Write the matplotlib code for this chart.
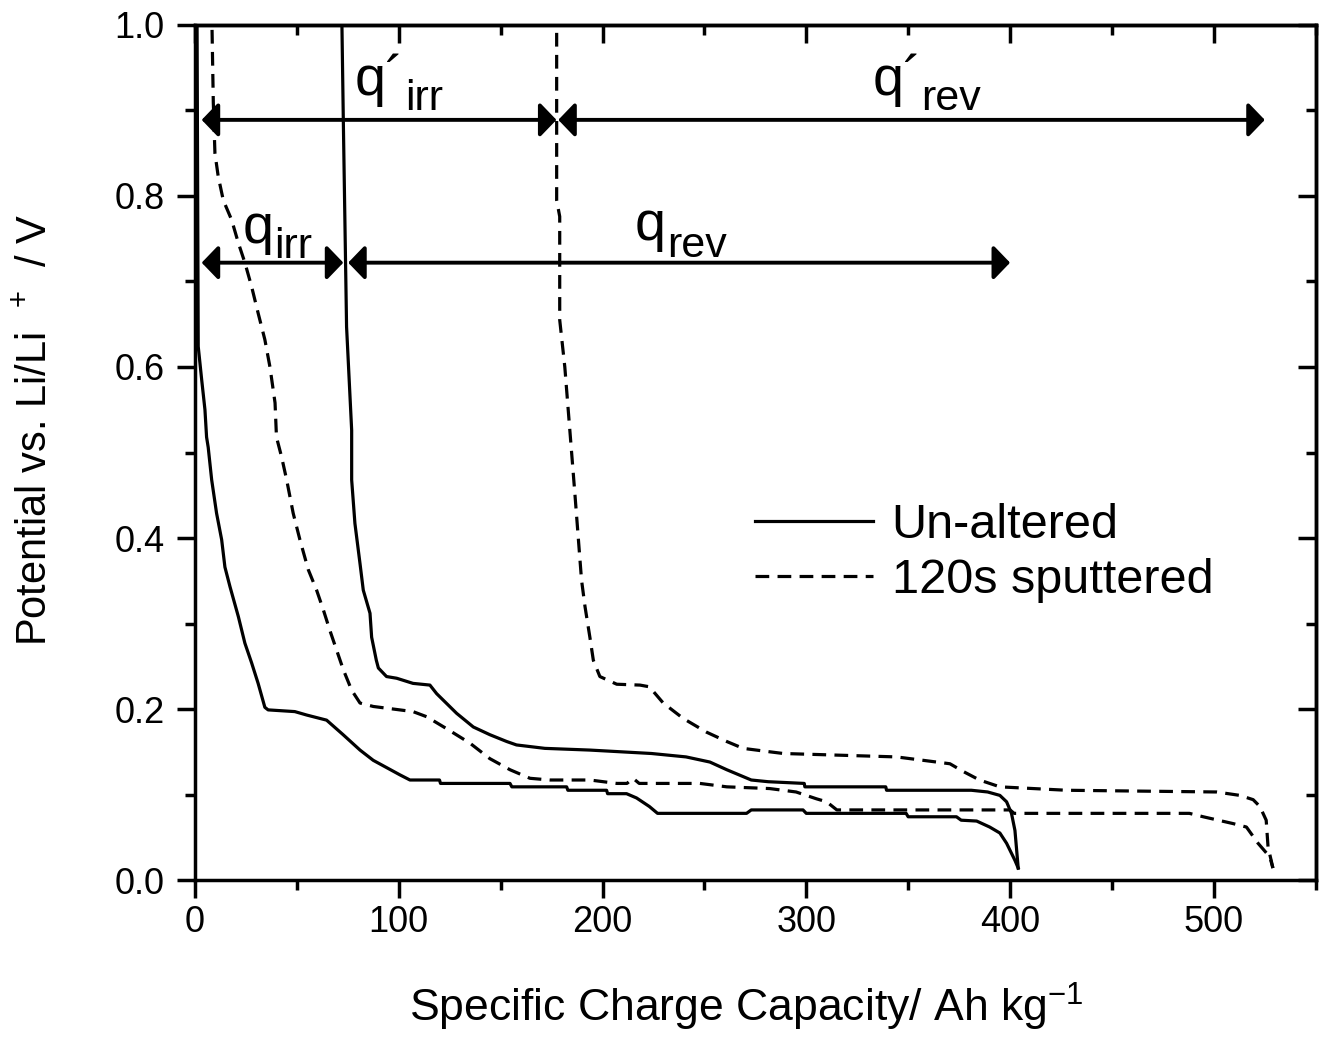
import matplotlib
matplotlib.use("Agg")
import matplotlib.pyplot as plt
from matplotlib.ticker import MultipleLocator, FormatStrFormatter

plt.rcParams['font.family'] = ['Liberation Sans', 'DejaVu Sans']
plt.rcParams['mathtext.fontset'] = 'custom'
plt.rcParams['mathtext.rm'] = 'Liberation Sans'
plt.rcParams['mathtext.it'] = 'Liberation Sans:italic'

# --- data (x: Ah/kg, y: V vs Li/Li+) ---
# un-altered, first lithiation
ua_dis_x = [1.0, 1.6, 3.3, 4.9, 5.7, 6.5, 8.2, 10.6, 13.1, 14.7, 17.2, 21.3, 24.5, 27.8,
            31.0, 34.3, 35.9, 49.0, 54.8, 64.6, 72.7, 81.0, 87.5, 100.6, 105.5, 120.0,
            120.5, 154.6, 155.5, 182.4, 183.0, 202.0, 202.5, 211.8, 216.7, 223.0, 227.0,
            270.7, 273.0, 298.4, 300.0, 349.0, 350.0, 373.7, 376.0, 383.6, 390.0, 395.0,
            398.3, 402.4, 404.0]
ua_dis_y = [1.02, 0.624, 0.585, 0.55, 0.518, 0.506, 0.468, 0.429, 0.398, 0.366, 0.343,
            0.308, 0.277, 0.254, 0.230, 0.202, 0.199, 0.197, 0.193, 0.187, 0.170, 0.152,
            0.140, 0.123, 0.117, 0.117, 0.113, 0.113, 0.109, 0.109, 0.105, 0.105, 0.101,
            0.101, 0.096, 0.086, 0.078, 0.078, 0.082, 0.082, 0.078, 0.078, 0.074, 0.074,
            0.070, 0.069, 0.062, 0.055, 0.043, 0.023, 0.014]
# un-altered, delithiation (plotted back from the end of lithiation)
ua_chg_x = [404.0, 402.4, 400.7, 398.3, 395.0, 389.0, 381.0, 339.4, 339.0, 299.3, 299.0,
            281.3, 273.0, 269.0, 261.0, 252.7, 241.0, 224.0, 193.8, 171.7, 157.8, 153.0,
            144.7, 136.6, 128.4, 126.7, 118.6, 115.3, 107.0, 99.0, 94.0, 90.0, 89.0,
            86.7, 85.9, 82.6, 81.0, 78.5, 76.9, 76.9, 74.4, 72.8, 72.0]
ua_chg_y = [0.014, 0.058, 0.078, 0.0915, 0.099, 0.103, 0.105, 0.105, 0.109, 0.109, 0.113,
            0.115, 0.117, 0.121, 0.129, 0.138, 0.144, 0.148, 0.152, 0.154, 0.158, 0.162,
            0.170, 0.179, 0.195, 0.199, 0.218, 0.228, 0.230, 0.236, 0.238, 0.248, 0.257,
            0.284, 0.312, 0.339, 0.370, 0.417, 0.468, 0.526, 0.647, 0.889, 1.02]
# 120 s sputtered, first lithiation
sp_dis_x = [8.2, 9.0, 9.8, 11.4, 13.9, 18.0, 21.3, 24.5, 27.8, 31.0, 34.3, 36.8, 39.3,
            40.0, 42.5, 45.0, 48.2, 51.5, 55.6, 59.7, 63.0, 66.2, 69.5, 72.8, 76.9, 81.0,
            87.5, 107.0, 113.7, 123.5, 135.0, 144.7, 154.6, 164.4, 174.2, 193.8, 207.0,
            212.0, 215.0, 218.0, 247.8, 261.0, 282.0, 295.0, 305.0, 310.0, 315.0, 400.0,
            402.0, 488.0, 494.8, 509.5, 516.0, 521.7, 527.5, 529.0]
sp_dis_y = [1.02, 0.909, 0.850, 0.823, 0.795, 0.772, 0.745, 0.722, 0.694, 0.663, 0.632,
            0.600, 0.558, 0.518, 0.495, 0.468, 0.429, 0.398, 0.363, 0.339, 0.316, 0.292,
            0.269, 0.246, 0.222, 0.207, 0.203, 0.197, 0.191, 0.177, 0.160, 0.142, 0.129,
            0.119, 0.117, 0.117, 0.113, 0.113, 0.119, 0.113, 0.113, 0.109, 0.107, 0.103,
            0.095, 0.0915, 0.082, 0.082, 0.078, 0.078, 0.074, 0.066, 0.062, 0.043, 0.027,
            0.014]
# 120 s sputtered, delithiation
sp_chg_x = [529.0, 526.6, 525.7, 522.6, 519.3, 512.8, 501.3, 427.7, 395.0, 385.0, 377.0,
            370.5, 344.3, 288.7, 282.0, 269.0, 261.0, 251.0, 239.6, 229.8, 223.0, 218.4,
            207.0, 198.7, 195.5, 193.8, 191.4, 189.7, 186.5, 181.5, 179.0, 179.0, 177.5,
            177.5]
sp_chg_y = [0.014, 0.039, 0.070, 0.086, 0.094, 0.099, 0.103, 0.105, 0.109, 0.117, 0.127,
            0.136, 0.144, 0.148, 0.150, 0.154, 0.162, 0.173, 0.189, 0.207, 0.226, 0.228,
            0.229, 0.238, 0.257, 0.284, 0.320, 0.351, 0.45, 0.6, 0.655, 0.776, 0.795,
            1.02]

# capacity arrows: (start, end, level)
arrows = [(3.3, 177.4, 0.889), (178.3, 525.0, 0.889),
          (3.3, 72.8, 0.722), (75.2, 400.0, 0.722)]
# labels: (main, sub, x_main, y_main, x_sub, y_sub)
qlabels = [("q\u00b4", "irr", 78.5, 0.918, 103.0, 0.9006),
           ("q\u00b4", "rev", 332.7, 0.918, 356.5, 0.9006),
           ("q", "irr", 23.5, 0.745, 39.0, 0.7275),
           ("q", "rev", 215.9, 0.748, 231.5, 0.7287)]

fig = plt.figure(figsize=(13.29, 10.40), dpi=100)
ax = fig.add_axes([0.1467, 0.1538, 0.8433, 0.8222])

lw = 2.3
dash = (4.3, 2.6)
ax.plot(ua_dis_x, ua_dis_y, color="k", lw=lw, label="Un-altered")
ax.plot(ua_chg_x, ua_chg_y, color="k", lw=lw)
ax.plot(sp_dis_x, sp_dis_y, color="k", lw=lw, dashes=dash, label="120s sputtered")
ax.plot(sp_chg_x, sp_chg_y, color="k", lw=lw, dashes=dash)

for x0, x1, yv in arrows:
    ax.annotate("", xy=(x1, yv), xytext=(x0, yv),
                arrowprops=dict(arrowstyle="<|-|>,head_length=0.5,head_width=0.52",
                                mutation_scale=20, lw=2.8, color="k",
                                shrinkA=0, shrinkB=0))

for main, sub, xm, ym, xs, ys in qlabels:
    ax.text(xm, ym, main, fontsize=40, va="baseline", ha="left")
    ax.text(xs, ys, sub, fontsize=31, va="baseline", ha="left")

ax.set_xlim(0, 550)
ax.set_ylim(0, 1.0)
ax.xaxis.set_major_locator(MultipleLocator(100))
ax.xaxis.set_minor_locator(MultipleLocator(50))
ax.yaxis.set_major_locator(MultipleLocator(0.2))
ax.yaxis.set_minor_locator(MultipleLocator(0.1))
ax.yaxis.set_major_formatter(FormatStrFormatter("%.1f"))

for s in ax.spines.values():
    s.set_linewidth(2.5)
ax.tick_params(which="both", direction="out", width=2.5, labelsize=26)
ax.tick_params(which="major", length=13)
ax.tick_params(which="minor", length=7)
ax.tick_params(axis="x", pad=5)
ax.tick_params(axis="y", pad=9)

# inward ticks on the top and right sides
top = ax.secondary_xaxis("top")
right = ax.secondary_yaxis("right")
top.spines["top"].set_linewidth(2.5)
right.spines["right"].set_linewidth(2.5)
top.xaxis.set_major_locator(MultipleLocator(100))
top.xaxis.set_minor_locator(MultipleLocator(50))
right.yaxis.set_major_locator(MultipleLocator(0.2))
right.yaxis.set_minor_locator(MultipleLocator(0.1))
top.tick_params(which="both", direction="in", width=2.5, labeltop=False)
right.tick_params(which="both", direction="in", width=2.5, labelright=False)
for sec in (top, right):
    sec.tick_params(which="major", length=13)
    sec.tick_params(which="minor", length=7)

ax.set_xlabel("Specific Charge Capacity/ Ah kg$^{\\mathregular{-1}}$", fontsize=32)
ax.set_ylabel("Potential vs. Li/Li  $^{\\mathregular{+}}$  / V", fontsize=30)
ax.xaxis.set_label_coords(0.492, -0.118)
ax.yaxis.set_label_coords(-0.124, 0.526)

ax.legend(loc="upper left", bbox_to_anchor=(0.4996, 0.441), frameon=False,
          fontsize=35, handlelength=2.43, handletextpad=0.385, labelspacing=0.2,
          borderpad=0, borderaxespad=0)

fig.savefig("out.png", dpi=100)
